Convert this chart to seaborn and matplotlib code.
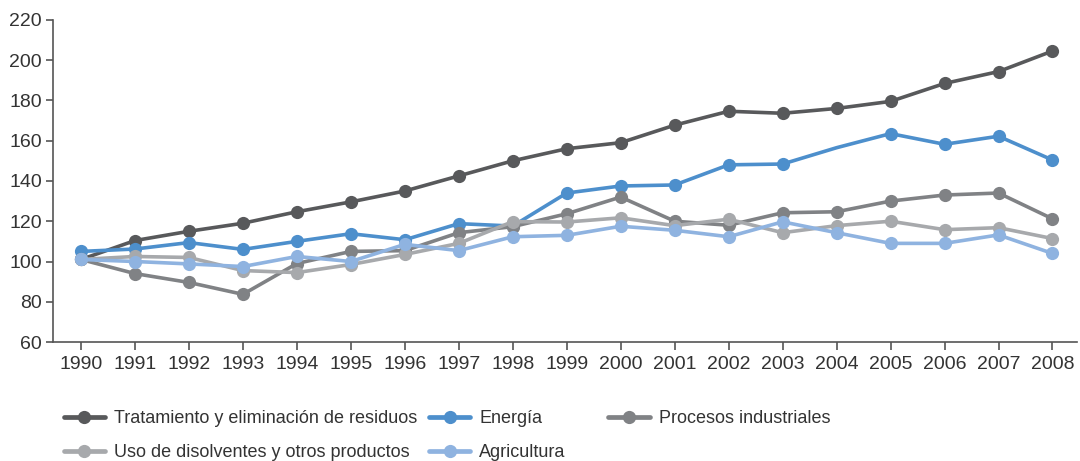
import numpy as np
import pandas as pd
import matplotlib
matplotlib.use("Agg")
import matplotlib.pyplot as plt
import seaborn as sns
from matplotlib import font_manager
from matplotlib.lines import Line2D

years = list(range(1990, 2009))
tratamiento = [101, 110.4, 115, 119, 124.7, 129.6, 135, 142.5, 150, 156, 159, 167.7, 174.6, 173.6, 176, 179.5, 188.4, 194.3, 204.5]
energia = [105, 106.2, 109.4, 106, 110, 113.8, 110.8, 118.8, 117.6, 134, 137.5, 138, 148, 148.4, 156.5, 163.5, 158.2, 162.2, 150.4]
procesos = [101, 94, 89.6, 83.7, 99, 105, 105.4, 114.3, 117.3, 123.7, 132, 120, 118, 124.2, 124.7, 130, 133, 134, 121.2]
disolventes = [101, 102.5, 102, 95.5, 94.5, 98.5, 103.5, 109, 119.8, 119.6, 121.7, 117.8, 121, 114.3, 117.8, 120, 115.8, 116.8, 111.4]
agricultura = [101, 100, 98.8, 97.5, 102.5, 100, 108.5, 105.4, 112.3, 113, 117.5, 115.5, 112.3, 119.7, 114.3, 109, 109, 113.2, 104]

series_names = ["Tratamiento y eliminación de residuos", "Energía", "Procesos industriales",
                "Uso de disolventes y otros productos", "Agricultura"]
series_values = [tratamiento, energia, procesos, disolventes, agricultura]
colors = ["#58595b", "#4d8fcc", "#808285", "#a7a9ac", "#8fb3e0"]
y_ticks = list(range(60, 221, 20))

rows = []
for name, vals in zip(series_names, series_values):
    for yr, v in zip(years, vals):
        rows.append({"year": yr, "value": v, "serie": name})
df = pd.DataFrame(rows)

sns.set_theme(style="white")
avail = {f.name for f in font_manager.fontManager.ttflist}
fam = "Liberation Sans Narrow" if "Liberation Sans Narrow" in avail else "Liberation Sans"
plt.rcParams["font.family"] = [fam, "DejaVu Sans"]

fig = plt.figure(figsize=(10.8, 4.61), dpi=100)
ax = fig.add_axes([0.049, 0.258, 0.948, 0.699])

sns.lineplot(data=df, x="year", y="value", hue="serie", hue_order=series_names,
             palette=colors, marker="o", markersize=9.5, markeredgewidth=0,
             linewidth=2.6, ax=ax, legend=False)

# Energy series: no marker in 2004 in the original
for line in ax.lines:
    if matplotlib.colors.to_hex(line.get_color()) == colors[1]:
        idx = [i for i, yr in enumerate(years) if yr != 2004]
        line.set_markevery(idx)

ax.set_xlim(1989.48, 2008.45)
ax.set_ylim(60, 220)
ax.set_yticks(y_ticks)
ax.set_xticks(years)
ax.set_xticklabels([str(y) for y in years])
ax.set_xlabel("")
ax.set_ylabel("")
for s in ["top", "right"]:
    ax.spines[s].set_visible(False)
for s in ["left", "bottom"]:
    ax.spines[s].set_color("#555555")
    ax.spines[s].set_linewidth(1.2)
ax.tick_params(axis="x", direction="out", length=6, width=1.2, color="#555555",
               labelsize=14, labelcolor="#333333", pad=4, bottom=True)
ax.tick_params(axis="y", direction="out", length=5, width=1.2, color="#555555",
               labelsize=14, labelcolor="#333333", pad=3, left=True)

handles = [Line2D([], [], color=c, marker="o", markersize=9.5, markeredgewidth=0, linewidth=3.4)
           for c in colors]
columns = [([0, 3], 0.059), ([1, 4], 0.397), ([2], 0.563)]
for idx, xpos in columns:
    leg = fig.legend([handles[i] for i in idx], [series_names[i] for i in idx],
                     ncol=1, loc="upper left", bbox_to_anchor=(xpos, 0.11),
                     frameon=False, fontsize=13, handlelength=2.3, handletextpad=0.5,
                     labelspacing=0.95, borderaxespad=0, borderpad=0)
    for t in leg.get_texts():
        t.set_color("#333333")

fig.savefig("out.png", dpi=100)
